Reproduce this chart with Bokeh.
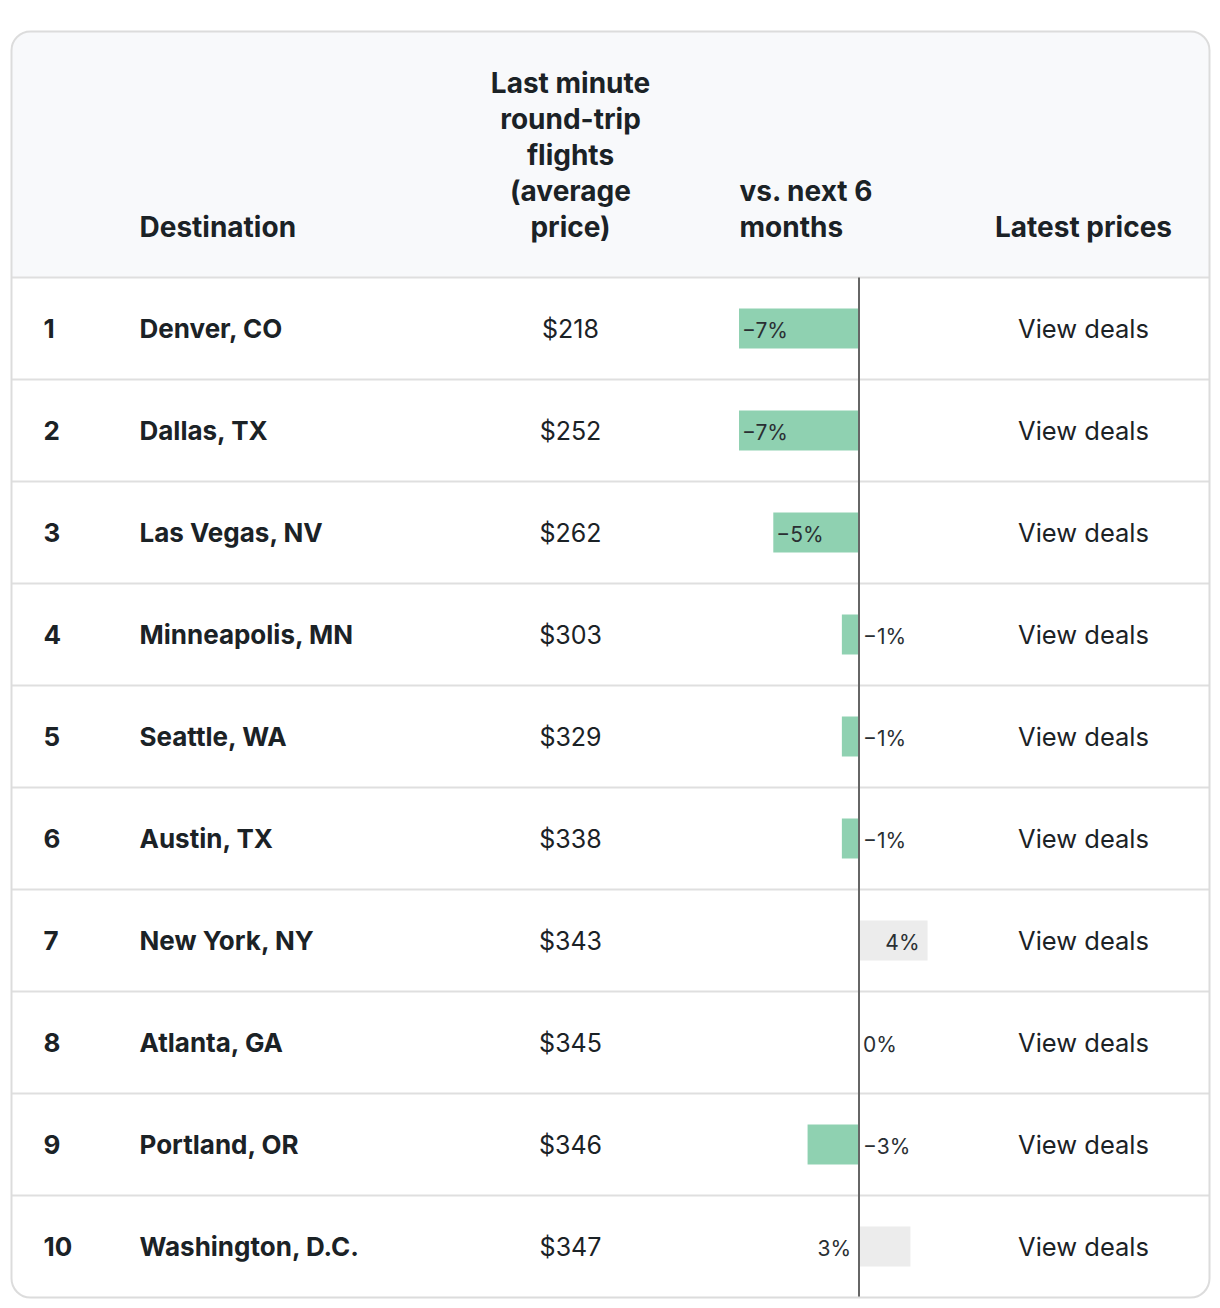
from bokeh.plotting import figure
from bokeh.models import Range1d, ColumnDataSource
from bokeh.core.properties import value
from bokeh.embed import file_html
from bokeh.resources import INLINE

# ---- data ----
ranks = [1, 2, 3, 4, 5, 6, 7, 8, 9, 10]
destinations = ["Denver, CO", "Dallas, TX", "Las Vegas, NV", "Minneapolis, MN",
                "Seattle, WA", "Austin, TX", "New York, NY", "Atlanta, GA",
                "Portland, OR", "Washington, D.C."]
prices = [218, 252, 262, 303, 329, 338, 343, 345, 346, 347]
changes = [-7, -7, -5, -1, -1, -1, 4, 0, -3, 3]
price_header = ["Last minute", "round-trip", "flights", "(average", "price)"]
change_header = ["vs. next 6", "months"]
link_text = "View deals"

# ---- styling ----
FONT = "Inter"
TXT = "#1b2226"
GREEN = "#8fd1b1"
GREY_BAR = "#ececec"
LINE = "#dfdfdf"
HEAD_BG = "#f8f9fb"

W, H = 1212, 1300
ROW_PX = 102.0
ROW1_Y = 328.0
PX_PER_PCT = 17.14
ZERO_X = 858.5

y_top = 1 - ROW1_Y / ROW_PX
y_bot = 1 + (H - ROW1_Y) / ROW_PX

p = figure(width=W, height=H, output_backend="svg", toolbar_location=None,
           x_range=Range1d(0, W), y_range=Range1d(start=y_bot, end=y_top),
           x_axis_location=None, y_axis_location=None, min_border=0,
           outline_line_color=None, background_fill_color="white",
           border_fill_color="white")
p.grid.visible = False
p.extra_x_ranges = {"pct": Range1d(-ZERO_X / PX_PER_PCT, (W - ZERO_X) / PX_PER_PCT)}

card_l, card_r = 11, 1209
card_top = 1 + (31 - ROW1_Y) / ROW_PX
card_bot = 10.5
head_bot = 0.5

# header background
p.quad(left=card_l, right=card_r, top=card_top, bottom=head_bot,
       fill_color=HEAD_BG, line_color=None, border_radius=(19, 19, 0, 0))

# row separators
seps = [r + 0.5 for r in [0] + ranks[:-1]]
p.segment(x0=card_l, x1=card_r, y0=seps, y1=seps, line_color=LINE, line_width=2)

# bars
src = ColumnDataSource(dict(
    y=ranks, rank_txt=[str(r) for r in ranks], dest=destinations,
    price_txt=[f"${v}" for v in prices], chg=changes,
    bar_color=[GREEN if c < 0 else GREY_BAR for c in changes],
    link=[link_text] * len(ranks),
))
p.hbar(y="y", left=0, right="chg", height=40 / ROW_PX, fill_color="bar_color",
       line_color=None, source=src, x_range_name="pct")

# zero line
p.segment(x0=0, x1=0, y0=head_bot, y1=card_bot, line_color="#666666",
          line_width=2, x_range_name="pct")

# bar labels
lab = {"x": [], "y": [], "t": [], "align": [], "off": []}
for r, c in zip(ranks, changes):
    txt = ("\u2212" if c < 0 else "") + f"{abs(c)}%"
    if c <= -5:
        lab["x"].append(c); lab["align"].append("left"); lab["off"].append(3)
    elif c <= 0:
        lab["x"].append(0); lab["align"].append("left"); lab["off"].append(4)
    elif c >= 4:
        lab["x"].append(c); lab["align"].append("right"); lab["off"].append(-8)
    else:
        lab["x"].append(0); lab["align"].append("right"); lab["off"].append(-8)
    lab["y"].append(r); lab["t"].append(txt)
lsrc = ColumnDataSource(lab)
p.text(x="x", y="y", text="t", text_align="align", x_offset="off", y_offset=2,
       text_baseline="middle", text_font=value(FONT), text_font_size="21px",
       text_color="#2a2f33", source=lsrc, x_range_name="pct")

# row texts
p.text(x=43, y="y", text="rank_txt", source=src, text_font=value(FONT),
       text_font_style="bold", text_font_size="26px", text_color=TXT,
       text_baseline="middle", text_align="left")
p.text(x=139, y="y", text="dest", source=src, text_font=value(FONT),
       text_font_style="bold", text_font_size="26px", text_color=TXT,
       text_baseline="middle", text_align="left")
p.text(x=570, y="y", text="price_txt", source=src, text_font=value(FONT),
       text_font_size="25px", text_color=TXT,
       text_baseline="middle", text_align="center")
p.text(x=1083, y="y", text="link", source=src, text_font=value(FONT),
       text_font_size="25.5px", text_color=TXT,
       text_baseline="middle", text_align="center")

# header texts
LH = 36 / ROW_PX
hdr = dict(text_font=value(FONT), text_font_style="bold", text_font_size="28px",
           text_color=TXT, text_baseline="middle")
p.text(x=[139], y=[0], text=["Destination"], text_align="left", **hdr)
n = len(price_header)
p.text(x=[570] * n, y=[-(n - 1 - k) * LH for k in range(n)], text=price_header,
       text_align="center", **hdr)
m = len(change_header)
p.text(x=[739] * m, y=[-(m - 1 - k) * LH for k in range(m)], text=change_header,
       text_align="left", **hdr)
p.text(x=[1083], y=[0], text=["Latest prices"], text_align="center", **hdr)

# card border
p.quad(left=card_l, right=card_r, top=card_top, bottom=card_bot,
       fill_color=None, line_color="#dcdcdc", line_width=2, border_radius=19)

open("out.html", "w").write(file_html(p, INLINE))
